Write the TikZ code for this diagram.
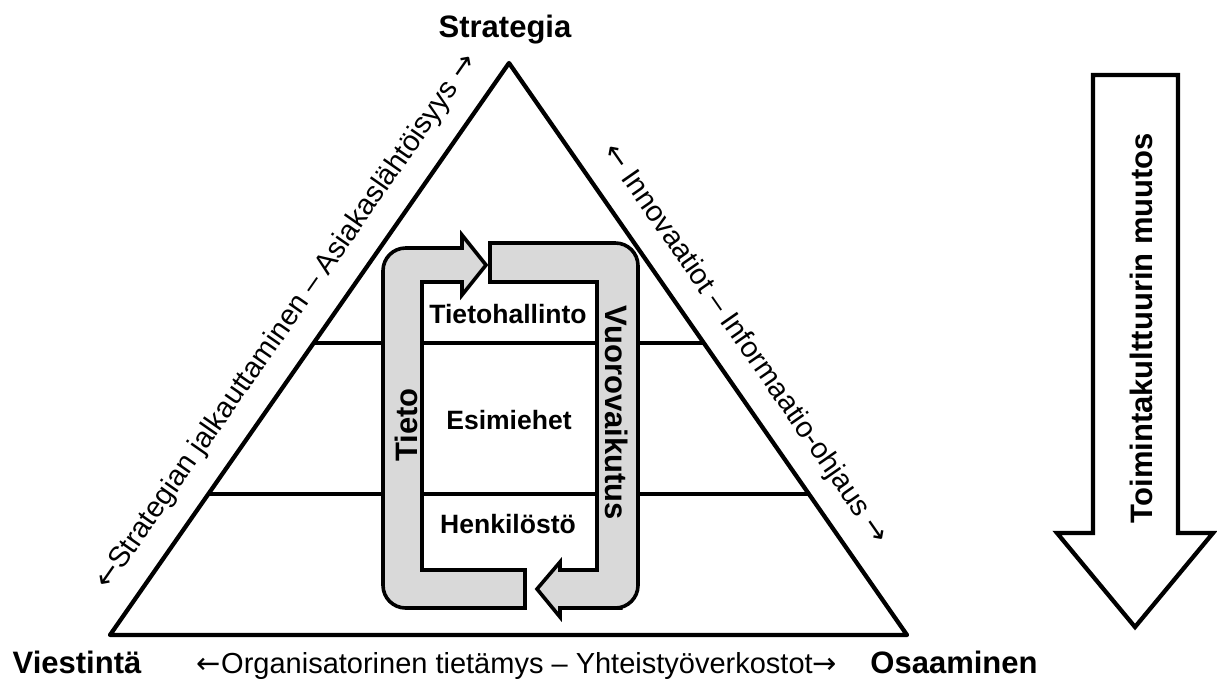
\documentclass[tikz,border=0pt]{standalone}
\usepackage{fontspec}
\setmainfont{Liberation Sans}
\newfontfamily\arrowfont{DejaVu Sans}
\newcommand{\arrl}{{\arrowfont ←}}
\newcommand{\arrr}{{\arrowfont →}}
\usetikzlibrary{calc}

\begin{document}
\begin{tikzpicture}[
  x=0.75pt, y=-0.75pt,
  every node/.style={inner sep=0pt, outer sep=0pt},
  corner/.style={font=\fontsize{23.25pt}{28pt}\selectfont\bfseries, anchor=base},
  sidetext/.style={font=\fontsize{21.75pt}{26pt}\selectfont},
  level/.style={font=\fontsize{19.9pt}{24pt}\selectfont\bfseries, anchor=base},
  bandtext/.style={font=\fontsize{23.25pt}{28pt}\selectfont\bfseries},
  edge/.style={line width=3.2pt, line join=round},
  divider/.style={line width=2.8pt},
  band/.style={draw, line width=2.7pt, fill=black!15, line join=miter},
  bigarrow/.style={draw, line width=3.2pt, fill=white, line join=miter}
]
  \useasboundingbox (0,0) rectangle (1217,683);

  % triangle and levels
  \coordinate (apex) at (509,63);
  \coordinate (vl) at (110,635);
  \coordinate (vr) at (907,635);
  \coordinate (l1) at ($(vl)!0.5105!(apex)$);
  \coordinate (r1) at ($(vr)!0.5105!(apex)$);
  \coordinate (l2) at ($(vl)!0.2465!(apex)$);
  \coordinate (r2) at ($(vr)!0.2465!(apex)$);
  \draw[divider] (l1) -- (r1);
  \draw[divider] (l2) -- (r2);
  \draw[edge] (vl) -- (apex) -- (vr) -- cycle;

  % loop arrows
  \draw[band] (525,570) -- (422,570) -- (422,282) -- (462,282) -- (462,295)
    -- (486,265) -- (462,235) -- (462,248) -- (430,248)
    [rounded corners=17pt] -- (383,248) -- (383,608) -- (460,608)
    [sharp corners] -- (525,608) -- cycle;
  \draw[band] (490,282) -- (490,243) -- (560,243)
    [rounded corners=17pt] -- (638,243) -- (638,608) -- (600,608)
    [sharp corners] -- (560,608) -- (560,617) -- (537,589) -- (560,562)
    -- (560,570) -- (597,570) -- (597,282) -- cycle;

  \node[level] (hallinto) at (508,323) {Tietohallinto};
  \node[level] (esimiehet) at (509,429) {Esimiehet};
  \node[level] (henkilosto) at (508,533) {Henkilöstö};
  \node[bandtext, rotate=90] (tieto) at (406,425) {Tieto};
  \node[bandtext, rotate=-90] (vuoro) at (617,413) {Vuorovaikutus};

  % corners
  \node[corner] (strategia) at (505,37) {Strategia};
  \node[corner] (viestinta) at (77,673) {Viestintä};
  \node[corner] (osaaminen) at (954,673) {Osaaminen};

  % sides
  \node[sidetext, anchor=base] (alaside) at (517,673) {\arrl Organisatorinen tietämys – Yhteistyöverkostot\arrr};
  \node[sidetext, rotate=55.1] (vasside) at (287,322) {\arrl Strategian jalkauttaminen – Asiakaslähtöisyys \arrr};
  \node[sidetext, rotate=-55.2] (oikside) at (745,344) {\arrl{} Innovaatiot – Informaatio-ohjaus \arrr};

  % change arrow
  \draw[bigarrow] (1093,75) -- (1178,75) -- (1178,533) -- (1213,533) -- (1135,627)
    -- (1057,533) -- (1093,533) -- cycle;
  \node[bandtext, rotate=90] (muutos) at (1141,328) {Toimintakulttuurin muutos};
\end{tikzpicture}
\end{document}
